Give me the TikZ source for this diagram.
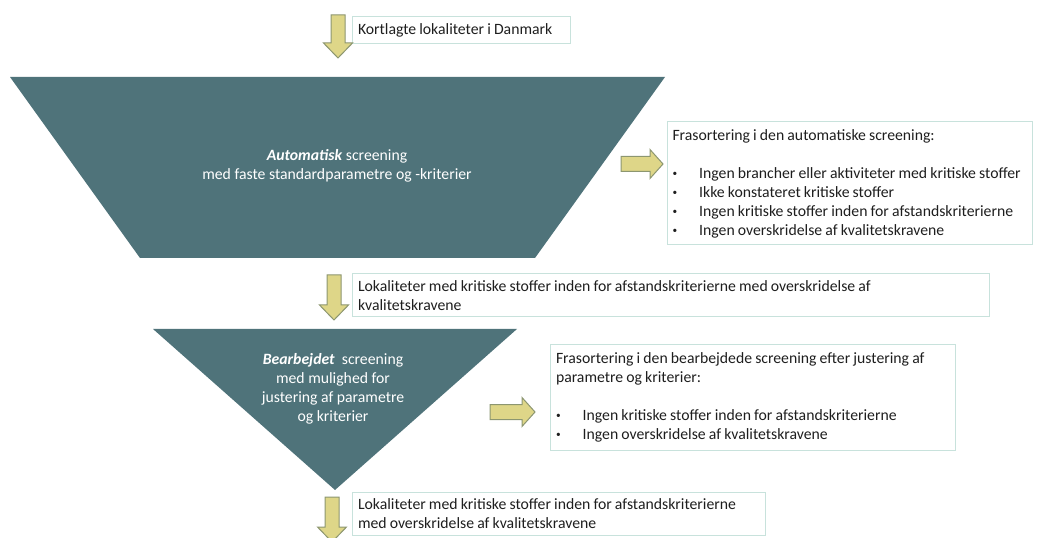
\documentclass[tikz,border=0pt]{standalone}
\usepackage{fontspec}
\setmainfont{Carlito}
\definecolor{funnelteal}{RGB}{79,115,122}
\definecolor{arrowfill}{RGB}{222,214,136}
\definecolor{arrowline}{RGB}{140,150,112}
\definecolor{boxline}{RGB}{200,226,220}
\definecolor{textgray}{RGB}{30,30,30}
\newcommand\bulletitem{\makebox[20pt][l]{\raisebox{0.25ex}{\fontsize{7pt}{7pt}\selectfont\textbullet}}}
\begin{document}
\begin{tikzpicture}[x=0.75pt,y=-0.75pt,
infobox/.style={draw=boxline,line width=0.75pt,align=left,inner xsep=4.5pt,inner ysep=0pt,
  text=textgray,font=\fontsize{11.8pt}{14.25pt}\selectfont,
  execute at begin node={\spaceskip=0.2em plus 0.1em\relax}},
screentext/.style={align=center,text=white,inner sep=0pt,font=\fontsize{11.8pt}{14.25pt}\selectfont},
pics/down arrow/.style={code={
    \draw[fill=arrowfill,draw=arrowline,line width=0.75pt]
      (-7,0) -- (7,0) -- (7,#1-15) -- (14.5,#1-15) -- (0,#1)
      -- (-14.5,#1-15) -- (-7,#1-15) -- cycle;}},
pics/right arrow/.style={code={
    \draw[fill=arrowfill,draw=arrowline,line width=0.75pt]
      (0,-7.5) -- (0,7.5) -- (#1-13,7.5) -- (#1-13,14.5) -- (#1,0)
      -- (#1-13,-14.5) -- (#1-13,-7.5) -- cycle;}}]
      \clip (0,0) rectangle (1039,538);
      % funnel shapes
      \fill[funnelteal] (10,77) -- (665,77) -- (535,258) -- (140,258) -- cycle;
      \fill[funnelteal] (153,329) -- (517,329) -- (335,490) -- cycle;
      \node[screentext] (auto) at (337,166)
        {\textbf{\textit{Automatisk}} screening\\med faste standardparametre og -kriterier};
      \node[screentext] (bearb) at (333,389)
        {\textbf{\textit{Bearbejdet}}\ \ screening\\med mulighed for\\justering af parametre\\og kriterier};
      % text boxes
      \node[infobox,text width=154.5pt,minimum height=20.25pt] (start) at (461,30.5)
        {Kortlagte lokaliteter i Danmark};
      \node[infobox,inner xsep=3.75pt,text width=266.25pt,minimum height=92.25pt] (sortauto) at (850,183.5)
        {Frasortering i den automatiske screening:\\[14.25pt]
         \mbox{\bulletitem Ingen brancher eller aktiviteter med kritiske stoffer}\\
         \bulletitem Ikke konstateret kritiske stoffer\\
         \bulletitem Ingen kritiske stoffer inden for afstandskriterierne\\
         \bulletitem Ingen overskridelse af kvalitetskravene};
      \node[infobox,text width=468.75pt,minimum height=32.25pt] (mellem) at (670.5,295.5)
        {Lokaliteter med kritiske stoffer inden for afstandskriterierne med overskridelse af\\kvalitetskravene};
      \node[infobox,text width=294.75pt,minimum height=78.75pt] (sortbearb) at (752.5,397.5)
        {Frasortering i den bearbejdede screening efter justering af\\parametre og kriterier:\\[14.25pt]
         \bulletitem Ingen kritiske stoffer inden for afstandskriterierne\\
         \bulletitem Ingen overskridelse af kvalitetskravene};
      \node[infobox,text width=300.75pt,minimum height=32.25pt] (slut) at (558.5,513.5)
        {Lokaliteter med kritiske stoffer inden for afstandskriterierne\\med overskridelse af kvalitetskravene};
      % block arrows
      \pic at (338,15) {down arrow=43};
      \pic at (334,275) {down arrow=45};
      \pic at (332,497) {down arrow=45};
      \pic at (621,164) {right arrow=42};
      \pic at (490,412) {right arrow=45};
\end{tikzpicture}
\end{document}
